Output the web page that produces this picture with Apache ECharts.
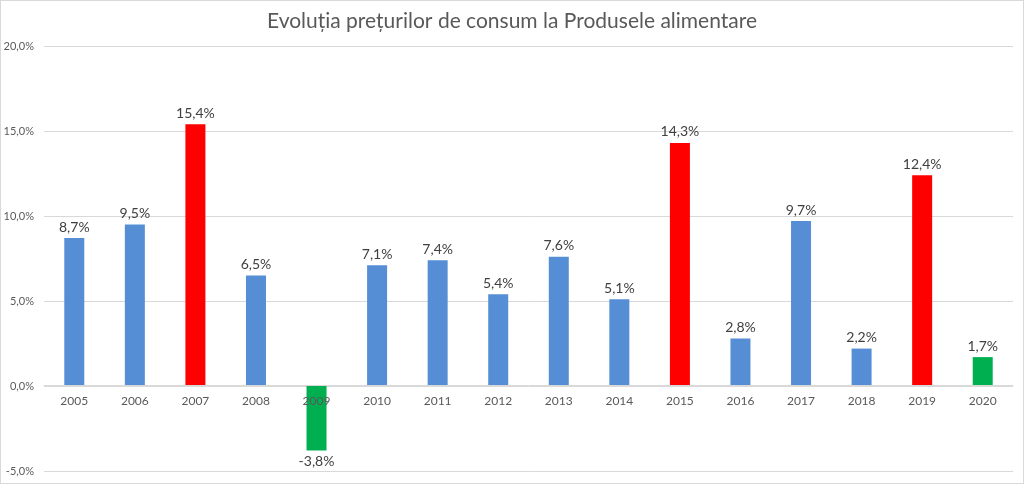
<!DOCTYPE html>
<html>
<head>
<meta charset="utf-8">
<script src="https://cdn.jsdelivr.net/npm/echarts@6/dist/echarts.min.js"></script>
<style>
  html, body { margin: 0; padding: 0; background: #fff; }
  #chart { width: 1024px; height: 484px; box-sizing: border-box; border: 1px solid #d9d9d9; }
</style>
</head>
<body>
<div id="chart"></div>
<script>
const years = ['2005', '2006', '2007', '2008', '2009', '2010', '2011', '2012',
  '2013', '2014', '2015', '2016', '2017', '2018', '2019', '2020'];
const inflation = [8.7, 9.5, 15.4, 6.5, -3.8, 7.1, 7.4, 5.4, 7.6, 5.1, 14.3, 2.8, 9.7, 2.2, 12.4, 1.7];
const barColors = ['blue', 'blue', 'red', 'blue', 'green', 'blue', 'blue', 'blue',
  'blue', 'blue', 'red', 'blue', 'blue', 'blue', 'red', 'green'];

const palette = { blue: '#558ED5', red: '#FF0000', green: '#00B050' };
const fmt = v => v.toFixed(1).replace('.', ',') + '%';

const yMin = -5, yMax = 20;
const gridTop = 45, gridBottom = 12, chartH = 484;
// move the category axis up to the zero line
const zeroOffset = -((chartH - gridTop - gridBottom) * (0 - yMin) / (yMax - yMin));

const chart = echarts.init(document.getElementById('chart'));

const option = {
  animation: false,
  textStyle: { fontFamily: 'Lato, "Open Sans", sans-serif' },
  title: {
    text: 'Evoluția prețurilor de consum la Produsele alimentare',
    left: 'center',
    top: 5,
    textStyle: { fontSize: 21, fontWeight: 'normal', color: '#595959', fontFamily: 'Lato, sans-serif' }
  },
  grid: { left: 43, right: 10, top: gridTop, bottom: gridBottom, outerBoundsMode: 'none' },
  xAxis: {
    type: 'category',
    data: years,
    offset: zeroOffset,
    z: 5,
    axisLine: { onZero: false, lineStyle: { color: '#d9d9d9' } },
    axisTick: { show: false },
    axisLabel: { color: '#595959', fontSize: 12, margin: 10 }
  },
  yAxis: {
    type: 'value',
    min: yMin,
    max: yMax,
    interval: 5,
    axisLine: { show: false },
    axisTick: { show: false },
    splitLine: { lineStyle: { color: '#d9d9d9' } },
    axisLabel: { color: '#595959', fontSize: 11, margin: 10, formatter: v => fmt(v) }
  },
  series: [{
    type: 'bar',
    barWidth: 20,
    data: inflation.map((v, i) => ({
      value: v,
      itemStyle: { color: palette[barColors[i]] },
      label: { position: v < 0 ? 'bottom' : 'top' }
    })),
    label: {
      show: true,
      color: '#404040',
      fontSize: 14,
      distance: 4,
      formatter: p => fmt(p.value)
    }
  }]
};

chart.setOption(option);
</script>
</body>
</html>
